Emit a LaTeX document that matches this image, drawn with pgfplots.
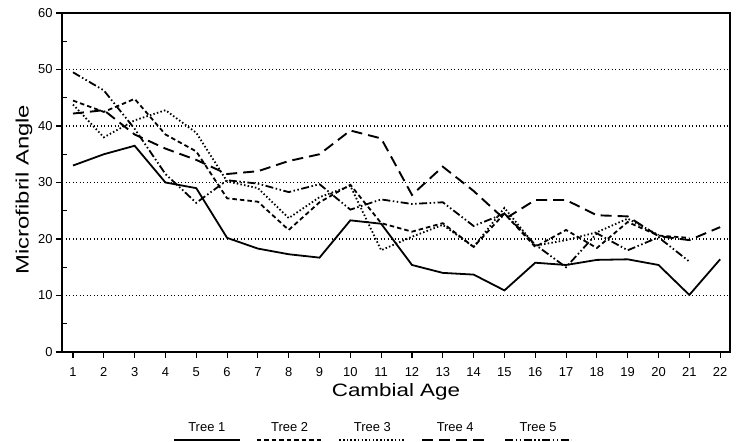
\documentclass[border=0pt]{standalone}
\usepackage{fontspec}
\setmainfont{Liberation Sans}
\usepackage{pgfplots}
\pgfplotsset{compat=1.18}
\usetikzlibrary{calc}
\newcommand\legline[2]{%
  \draw[#1] (0bp,0bp) -- (66bp,0bp);
  \node[draw=none, fill=none, text=black, inner sep=0pt, anchor=base,
        font=\fontsize{13}{13}\selectfont] at (33bp,9bp) {#2};}
\pgfplotsset{
  leg1/.style={legend image code/.code={\legline{##1}{Tree 1}}},
  leg2/.style={legend image code/.code={\legline{##1}{Tree 2}}},
  leg3/.style={legend image code/.code={\legline{##1}{Tree 3}}},
  leg4/.style={legend image code/.code={\legline{##1}{Tree 4}}},
  leg5/.style={legend image code/.code={\legline{##1}{Tree 5}}},
}
\begin{document}
\begin{tikzpicture}
\begin{axis}[
  scale only axis, width=668bp, height=339bp,
  xmin=0.643, xmax=22.32, ymin=0, ymax=60,
  xtick={1,...,22}, ytick={0,10,...,60}, minor ytick={5,15,...,55},
  tick align=outside, xtick pos=bottom, ytick pos=left,
  major tick length=6bp, minor tick length=5bp,
  tick style={black, line width=1.1bp},
  minor y tick style={xshift=5bp},
  axis line style={line width=1.5bp},
  ymajorgrids,
  major grid style={black, line width=1.5bp, dash pattern=on 1.4bp off 2.1bp},
  /pgf/number format/assume math mode=true,
  ticklabel style={font=\fontsize{13}{13}\selectfont},
  xticklabel style={yshift=-6bp},
  ylabel={\scalebox{1.33}[1]{Microfibril Angle}},
  xlabel={\scalebox{1.25}[1]{Cambial Age}},
  label style={font=\fontsize{18}{18}\selectfont},
  ylabel style={at={(axis description cs:-0.057,0.479)}, anchor=center},
  xlabel style={at={(axis description cs:0.5,-0.118)}, anchor=center},
  legend columns=5,
  legend style={draw=none, fill=none, inner sep=0pt, outer sep=0pt,
    at={(axis description cs:0.166,-0.207)}, anchor=north west,
    nodes={inner sep=0pt},
    /tikz/every odd column/.append style={column sep=0bp},
    /tikz/every even column/.append style={column sep=14bp}},
]
% Tree 1
\addplot[black, line width=1.8bp, leg1] coordinates {
(1,33)(2,35)(3,36.5)(4,30)(5,29)(6,20.2)(7,18.3)(8,17.3)(9,16.7)(10,23.3)(11,22.7)
(12,15.4)(13,14)(14,13.7)(15,10.9)(16,15.8)(17,15.4)(18,16.3)(19,16.4)(20,15.4)(21,10.1)(22,16.4)};
\addlegendentry{}
% Tree 2
\addplot[black, line width=1.8bp, dash pattern=on 4.5bp off 3bp, leg2] coordinates {
(1,44.5)(2,42.5)(3,44.8)(4,38.5)(5,35.5)(6,27.2)(7,26.6)(8,21.6)(9,26.5)(10,29.6)(11,22.8)
(12,21.3)(13,22.8)(14,18.6)(15,24.5)(16,18.6)(17,21.6)(18,18.4)(19,23)(20,20.6)(21,20.2)};
\addlegendentry{}
% Tree 3
\addplot[black, line width=1.8bp, dash pattern=on 1.5bp off 2.2bp, leg3] coordinates {
(1,43.8)(2,38)(3,41)(4,42.8)(5,38.8)(6,30.2)(7,29)(8,23.7)(9,27.4)(10,29.4)(11,18)
(12,20.4)(13,22.5)(14,18.6)(15,25.5)(16,18.8)(17,19.8)(18,21.2)(19,23.6)(20,20.7)};
\addlegendentry{}
% Tree 4
\addplot[black, line width=1.9bp, dash pattern=on 11bp off 6bp, leg4] coordinates {
(1,42.2)(2,42.8)(3,38.5)(4,36)(5,34)(6,31.5)(7,32)(8,33.8)(9,35)(10,39.2)(11,37.8)
(12,27.8)(13,32.8)(14,28.5)(15,23.5)(16,26.9)(17,26.9)(18,24.2)(19,24)(20,20.5)(21,19.8)(22,22.1)};
\addlegendentry{}
% Tree 5
\addplot[black, line width=1.8bp, dash pattern=on 8bp off 2.5bp on 1.5bp off 2.5bp on 1.5bp off 2.5bp, leg5] coordinates {
(1,49.5)(2,46.3)(3,39.5)(4,31.5)(5,26.4)(6,30.4)(7,29.8)(8,28.3)(9,29.7)(10,25.2)(11,27)
(12,26.2)(13,26.5)(14,22.3)(15,24.5)(16,19)(17,15)(18,21)(19,18)(20,20.3)(21,16)};
\addlegendentry{}
\end{axis}
\pgfresetboundingbox
\path ($(current axis.south west)+(-62bp,-90bp)$) rectangle ($(current axis.north east)+(6bp,13bp)$);
\end{tikzpicture}
\end{document}
